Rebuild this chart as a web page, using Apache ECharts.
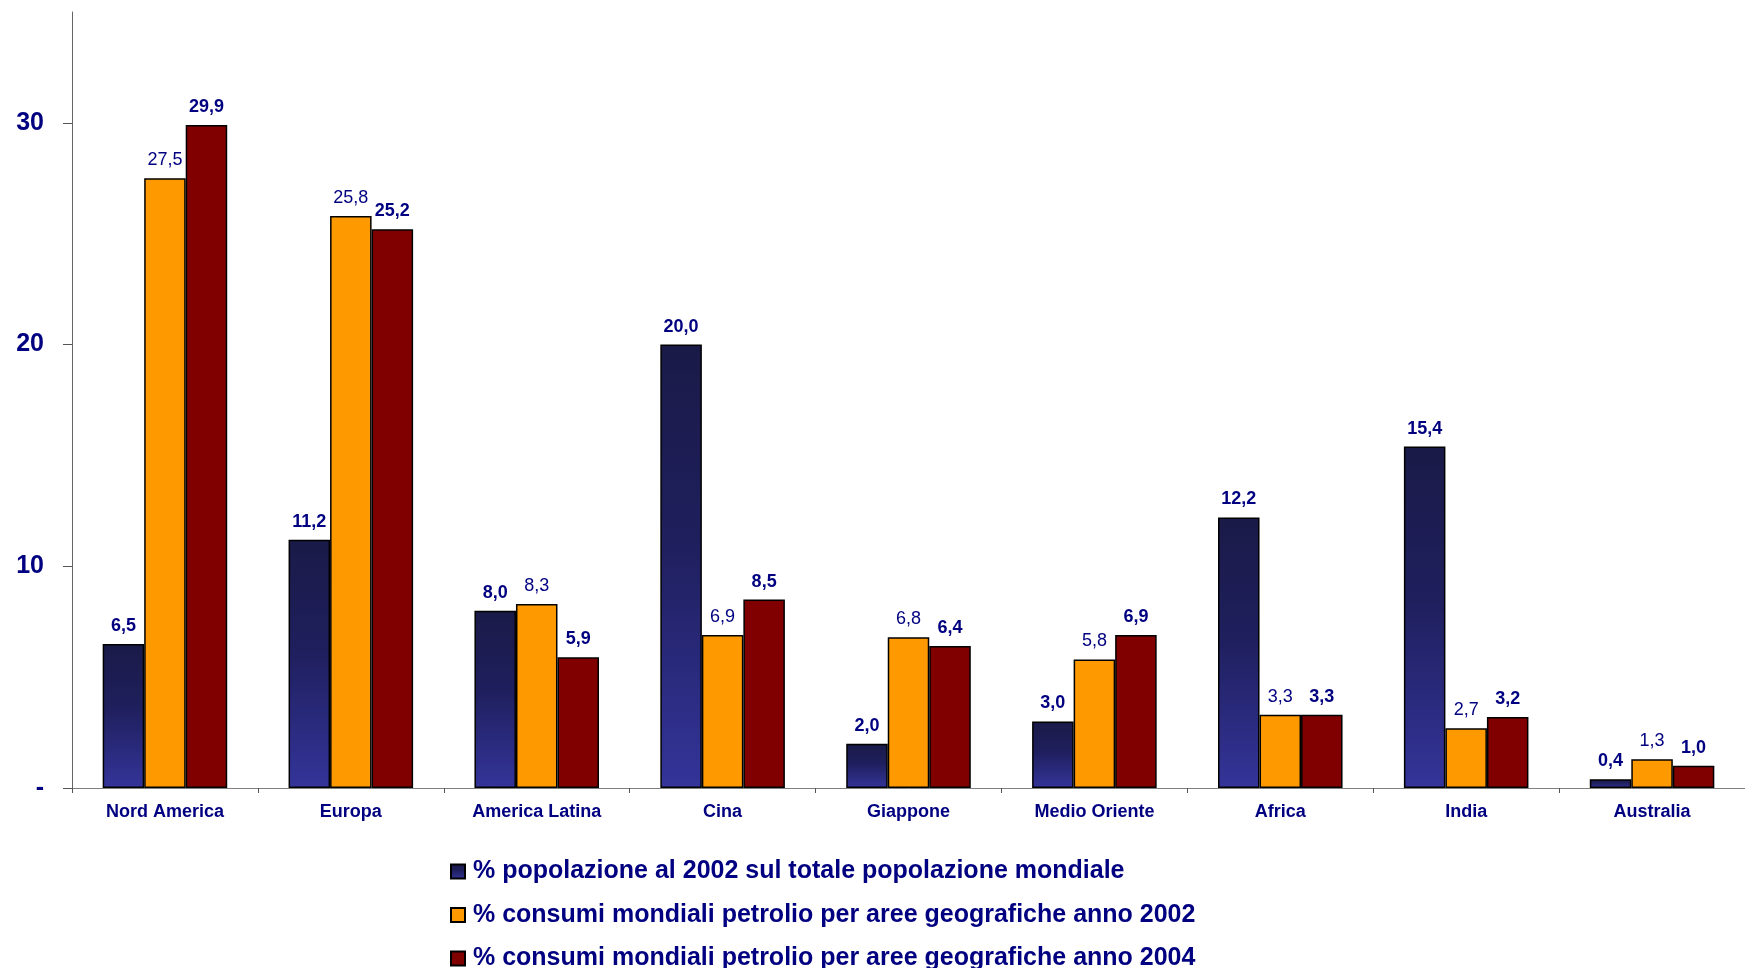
<!DOCTYPE html>
<html>
<head>
<meta charset="utf-8">
<script src="https://cdn.jsdelivr.net/npm/echarts@6/dist/echarts.min.js"></script>
<style>
html,body{margin:0;padding:0;background:#fff;}
#chart{width:1745px;height:968px;}
</style>
</head>
<body>
<div id="chart"></div>
<script>
const categories = ['Nord America','Europa','America Latina','Cina','Giappone','Medio Oriente','Africa','India','Australia'];
const seriesNames = [
  '% popolazione al 2002 sul totale popolazione mondiale',
  '% consumi mondiali petrolio per aree geografiche anno 2002',
  '% consumi mondiali petrolio per aree geografiche anno 2004'
];
const popolazione2002 = [6.5, 11.2, 8.0, 20.0, 2.0, 3.0, 12.2, 15.4, 0.4];
const consumi2002 = [27.5, 25.8, 8.3, 6.9, 6.8, 5.8, 3.3, 2.7, 1.3];
const consumi2004 = [29.9, 25.2, 5.9, 8.5, 6.4, 6.9, 3.3, 3.2, 1.0];
const yTickValues = [0, 10, 20, 30];
const yTickLabels = ['-', '10', '20', '30'];

const FONT = "'Liberation Sans', Arial, sans-serif";
const NAVY = '#000080';
const fmt = p => p.value.toFixed(1).replace('.', ',');

function labelCfg(bold) {
  return {
    show: true, position: 'top', distance: 9,
    color: NAVY, fontFamily: FONT, fontSize: 18,
    fontWeight: bold ? 'bold' : 'normal',
    formatter: fmt
  };
}

const chart = echarts.init(document.getElementById('chart'), null, {renderer: 'canvas'});
chart.setOption({
  animation: false,
  backgroundColor: '#ffffff',
  grid: {left: 72, right: -7, top: 12, bottom: 180, containLabel: false},
  legend: {
    orient: 'vertical', left: 450, top: 859, height: 200, padding: 0,
    icon: 'rect',
    itemWidth: 14, itemHeight: 14, itemGap: 18.5,
    textStyle: {color: NAVY, fontFamily: FONT, fontSize: 25, fontWeight: 'bold', padding: [0,0,0,3]},
    data: seriesNames
  },
  xAxis: {
    type: 'category', data: categories,
    axisLine: {lineStyle: {color: '#808080', width: 1}},
    axisTick: {show: true, length: 5, lineStyle: {color: '#555'}},
    axisLabel: {color: NAVY, fontFamily: FONT, fontSize: 18, fontWeight: 'bold', margin: 15}
  },
  yAxis: {
    type: 'value', min: 0, max: 35, interval: 10,
    splitLine: {show: false},
    axisLine: {show: true, lineStyle: {color: '#666', width: 1}},
    axisTick: {show: true, length: 9, lineStyle: {color: '#555'}, customValues: yTickValues},
    axisLabel: {
      color: NAVY, fontFamily: FONT, fontSize: 25, fontWeight: 'bold', margin: 28,
      customValues: yTickValues,
      formatter: v => yTickLabels[yTickValues.indexOf(v)] ?? ''
    }
  },
  series: [
    {
      name: seriesNames[0], type: 'bar', data: popolazione2002,
      barGap: '0%', barCategoryGap: '33%',
      itemStyle: {
        color: new echarts.graphic.LinearGradient(0, 0, 0, 1, [
          {offset: 0, color: '#1a1a48'},
          {offset: 0.45, color: '#1f1f5e'},
          {offset: 1, color: '#34349a'}
        ]),
        borderColor: '#000', borderWidth: 1.5
      },
      label: labelCfg(true)
    },
    {
      name: seriesNames[1], type: 'bar', data: consumi2002,
      barGap: '0%', barCategoryGap: '33%',
      itemStyle: {color: '#FF9900', borderColor: '#000', borderWidth: 1.5},
      label: labelCfg(false)
    },
    {
      name: seriesNames[2], type: 'bar', data: consumi2004,
      barGap: '0%', barCategoryGap: '33%',
      itemStyle: {color: '#800000', borderColor: '#000', borderWidth: 1.5},
      label: labelCfg(true)
    }
  ]
});
</script>
</body>
</html>
